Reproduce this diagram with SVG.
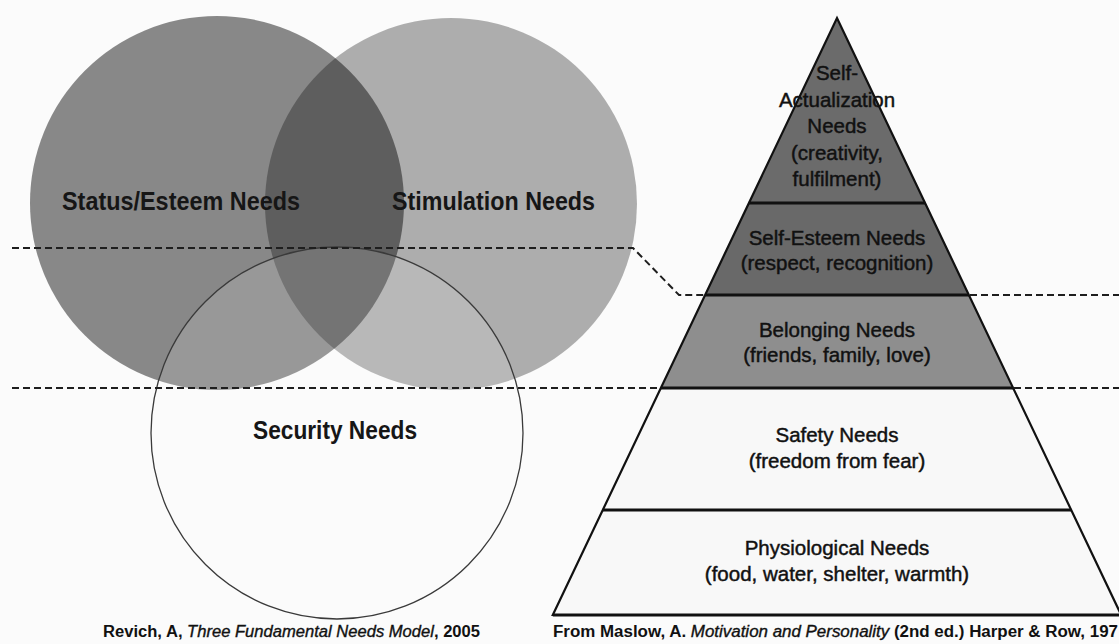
<svg xmlns="http://www.w3.org/2000/svg" width="1119" height="644" viewBox="0 0 1119 644">
<style>
.lbl{font-family:"Liberation Sans",Arial,sans-serif;font-weight:bold;font-size:25px;fill:#161616}
.pt{font-family:"Liberation Sans",Arial,sans-serif;font-size:20.5px;fill:#111;stroke:#111;stroke-width:0.45;text-anchor:middle}
.cap{font-family:"Liberation Sans",Arial,sans-serif;font-weight:bold;font-size:16px;fill:#111}
.it{font-style:italic;font-weight:normal;stroke:#111;stroke-width:0.35}
.dash{fill:none;stroke:#1e1e1e;stroke-width:2;stroke-dasharray:7 4}
.edge{fill:none;stroke:#111;stroke-width:2.2;stroke-linejoin:miter}
.lvl{stroke:#111;stroke-width:3}
</style>
<rect width="1119" height="644" fill="#fbfbfb"/>
<g id="venn">
<g id="status-esteem"><circle cx="217" cy="203" r="187" fill="#000" fill-opacity="0.46"/></g>
<g id="stimulation"><circle cx="451" cy="204" r="186" fill="#000" fill-opacity="0.31"/></g>
<g id="security"><circle cx="337" cy="433" r="186" fill="#fff" fill-opacity="0.14" stroke="#3a3a3a" stroke-width="1.3"/></g>
</g>
<g id="pyramid">
<g id="self-actualization"><polygon points="837,18 925.1,203 748.9,203" fill="#6b6b6b"/></g>
<g id="self-esteem"><polygon points="748.9,203 925.1,203 968.9,295 705.1,295" fill="#696969"/></g>
<g id="belonging"><polygon points="705.1,295 968.9,295 1013.1,388 660.9,388" fill="#8e8e8e"/></g>
<g id="safety"><polygon points="660.9,388 1013.1,388 1071.2,510 602.8,510" fill="#f8f8f8"/></g>
<g id="physiological"><polygon points="602.8,510 1071.2,510 1121.2,615 552.8,615" fill="#f8f8f8"/></g>
<path class="edge" d="M552.8,615 L837,18 L1121.2,615 Z"/>
<line class="lvl" x1="748.9" y1="203" x2="925.1" y2="203"/>
<line class="lvl" x1="705.1" y1="295" x2="968.9" y2="295"/>
<line class="lvl" x1="660.9" y1="388" x2="1013.1" y2="388"/>
<line class="lvl" x1="602.8" y1="510" x2="1071.2" y2="510"/>
<line class="lvl" x1="552.8" y1="615" x2="1121.2" y2="615"/>
</g>
<g id="connectors">
<path class="dash" d="M12,248 H633 L679,295 H704"/>
<path class="dash" d="M970,295 H1119"/>
<path class="dash" d="M12,388 H660"/>
<path class="dash" d="M1014,388 H1119"/>
</g>
<g id="labels">
<text class="lbl" x="62" y="210" textLength="238" lengthAdjust="spacingAndGlyphs">Status/Esteem Needs</text>
<text class="lbl" x="392" y="210" textLength="203" lengthAdjust="spacingAndGlyphs">Stimulation Needs</text>
<text class="lbl" x="253" y="439" textLength="164" lengthAdjust="spacingAndGlyphs">Security Needs</text>
<text class="pt" x="837" y="80">Self-</text>
<text class="pt" x="837" y="107">Actualization</text>
<text class="pt" x="837" y="133">Needs</text>
<text class="pt" x="837" y="160">(creativity,</text>
<text class="pt" x="837" y="186">fulfilment)</text>
<text class="pt" x="837" y="245">Self-Esteem Needs</text>
<text class="pt" x="837" y="270">(respect,  recognition)</text>
<text class="pt" x="837" y="337">Belonging Needs</text>
<text class="pt" x="837" y="362">(friends, family, love)</text>
<text class="pt" x="837" y="442">Safety Needs</text>
<text class="pt" x="837" y="468">(freedom from fear)</text>
<text class="pt" x="837" y="555">Physiological Needs</text>
<text class="pt" x="837" y="581">(food, water, shelter, warmth)</text>
</g>
<g id="captions">
<text class="cap" x="103" y="637" textLength="377" lengthAdjust="spacingAndGlyphs">Revich, A, <tspan class="it">Three Fundamental Needs Model</tspan>, 2005</text>
<text class="cap" x="553" y="637" textLength="565" lengthAdjust="spacingAndGlyphs">From Maslow, A.  <tspan class="it">Motivation and Personality</tspan> (2nd ed.) Harper &amp; Row, 197</text>
</g>
</svg>
